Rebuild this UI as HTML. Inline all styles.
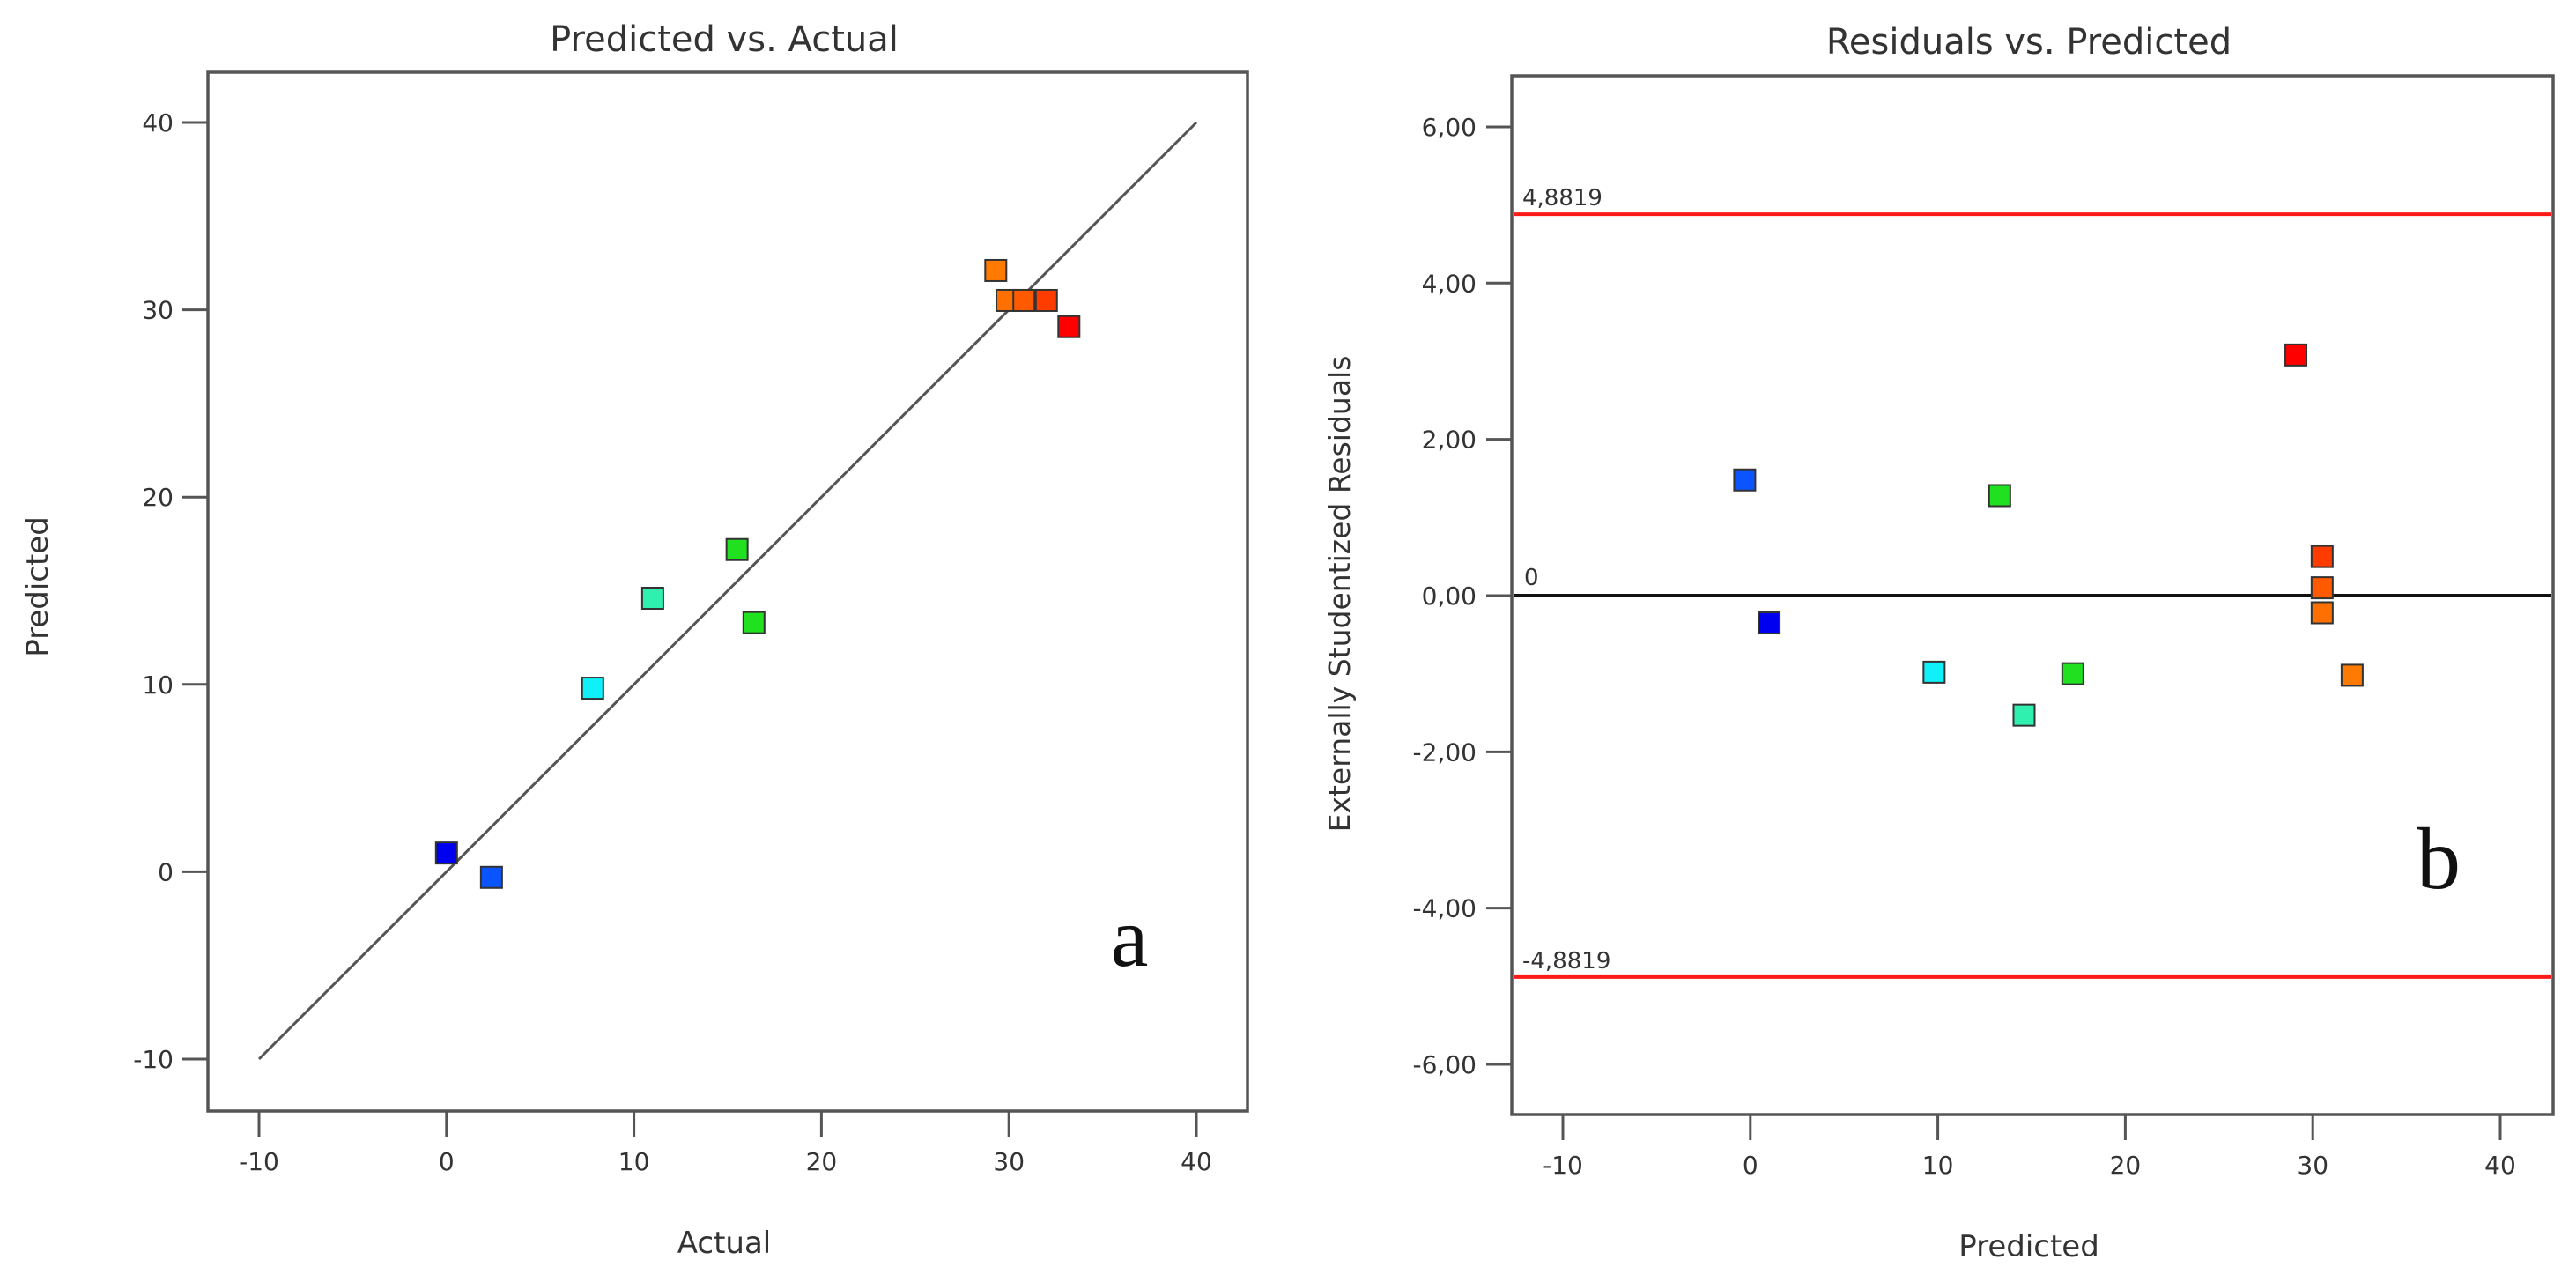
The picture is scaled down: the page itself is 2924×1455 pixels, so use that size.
<!DOCTYPE html>
<html><head><meta charset="utf-8"><style>
html,body{margin:0;padding:0;background:#fff;}
svg{display:block;font-family:"DejaVu Sans","Liberation Sans",sans-serif;}
</style></head><body>
<svg id="fig" width="2924" height="1455" viewBox="0 0 2924 1455" xmlns="http://www.w3.org/2000/svg"></svg>
<script>
// Panel a data
const actualVals = [0, 2.4, 7.8, 11.0, 15.5, 16.4, 29.3, 29.9, 30.8, 32.0, 33.2];
const predictedVals = [1.0, -0.3, 9.8, 14.6, 17.2, 13.3, 32.1, 30.5, 30.5, 30.5, 29.1];
const colorsA = ["#0000f0","#0a55ff","#10f0f8","#30f0b0","#20e020","#20e020","#ff7a00","#ff7000","#ff5a00","#ff3c00","#ff0000"];
// Panel b data
const predB = [-0.3, 1.0, 9.8, 13.3, 14.6, 17.2, 29.1, 30.5, 30.5, 30.5, 32.1];
const residB = [1.48, -0.35, -0.98, 1.28, -1.53, -1.0, 3.08, 0.5, 0.1, -0.22, -1.02];
const colorsB = ["#0a55ff","#0000f0","#10f0f8","#20e020","#30f0b0","#20e020","#ff0000","#ff3c00","#ff5a00","#ff7000","#ff7a00"];
const xTicks = [-10, 0, 10, 20, 30, 40];
const yTicksA = [-10, 0, 10, 20, 30, 40];
const yTicksB = [-6, -4, -2, 0, 2, 4, 6];
const yTickLabelsB = ["-6,00","-4,00","-2,00","0,00","2,00","4,00","6,00"];
const limit = 4.8819;

const NS = "http://www.w3.org/2000/svg";
const svg = document.getElementById('fig');
function mk(tag, attrs, parent, text){
  const e = document.createElementNS(NS, tag);
  for (const k in attrs) e.setAttribute(k, attrs[k]);
  if (text !== undefined) e.textContent = text;
  (parent || svg).appendChild(e);
  return e;
}
const xA = v => 294 + (v + 10) * 21.28;
const yA = v => 1202 - (v + 10) * 21.26;
const xB = v => 1774 + (v + 10) * 21.28;
const yB = v => 1208 - (v + 6) * 88.67;

// ---------- Panel A ----------
const gA = mk('g', {});


let t = mk('text', {x: 822, y: 58, 'font-size': 40, 'text-anchor': 'middle', fill: '#333'}, gA, 'Predicted vs. Actual');


let fr = mk('rect', {x: 236, y: 82, width: 1180, height: 1179, fill: 'none', stroke: '#555', 'stroke-width': 3.5}, gA);


xTicks.forEach(v => {
  const l = mk('line', {x1: xA(v), x2: xA(v), y1: 1261, y2: 1290, stroke: '#555', 'stroke-width': 3}, gA);
  
  
  const tx = mk('text', {x: xA(v), y: 1328, 'font-size': 28, 'text-anchor': 'middle', fill: '#333'}, gA, String(v));
  
  
});
yTicksA.forEach(v => {
  const l = mk('line', {x1: 207, x2: 236, y1: yA(v), y2: yA(v), stroke: '#555', 'stroke-width': 3}, gA);
  
  
  const tx = mk('text', {x: 197, y: yA(v) + 10, 'font-size': 28, 'text-anchor': 'end', fill: '#333'}, gA, String(v));
  
  
});
let diag = mk('line', {x1: xA(-10), y1: yA(-10), x2: xA(40), y2: yA(40), stroke: '#555', 'stroke-width': 3}, gA);


actualVals.forEach((v, i) => {
  const r = mk('rect', {x: xA(v) - 12, y: yA(predictedVals[i]) - 12, width: 24, height: 24, fill: colorsA[i], stroke: '#333', 'stroke-width': 2}, gA);
  
  
});
t = mk('text', {x: 822, y: 1422, 'font-size': 34, 'text-anchor': 'middle', fill: '#333'}, gA, 'Actual');


t = mk('text', {x: 0, y: 0, 'font-size': 34, 'text-anchor': 'middle', fill: '#333', transform: 'translate(54,666) rotate(-90)'}, gA, 'Predicted');


t = mk('text', {x: 1282, y: 1096, 'font-size': 96, 'text-anchor': 'middle', fill: '#111', 'font-family': '"Liberation Serif", serif'}, gA, 'a');



// ---------- Panel B ----------
const gB = mk('g', {});


t = mk('text', {x: 2303, y: 61, 'font-size': 40, 'text-anchor': 'middle', fill: '#333'}, gB, 'Residuals vs. Predicted');


fr = mk('rect', {x: 1716, y: 86, width: 1182, height: 1179, fill: 'none', stroke: '#555', 'stroke-width': 3.5}, gB);


xTicks.forEach(v => {
  const l = mk('line', {x1: xB(v), x2: xB(v), y1: 1265, y2: 1294, stroke: '#555', 'stroke-width': 3}, gB);
  
  
  const tx = mk('text', {x: xB(v), y: 1332, 'font-size': 28, 'text-anchor': 'middle', fill: '#333'}, gB, String(v));
  
  
});
yTicksB.forEach((v, i) => {
  const l = mk('line', {x1: 1687, x2: 1716, y1: yB(v), y2: yB(v), stroke: '#555', 'stroke-width': 3}, gB);
  
  
  const tx = mk('text', {x: 1676, y: yB(v) + 10, 'font-size': 28, 'text-anchor': 'end', fill: '#333'}, gB, yTickLabelsB[i]);
  
  
});
let ln = mk('line', {x1: 1718, x2: 2896, y1: yB(limit), y2: yB(limit), stroke: '#ff1a1a', 'stroke-width': 4}, gB);


ln = mk('line', {x1: 1718, x2: 2896, y1: yB(-limit), y2: yB(-limit), stroke: '#ff1a1a', 'stroke-width': 4}, gB);


ln = mk('line', {x1: 1718, x2: 2896, y1: yB(0), y2: yB(0), stroke: '#111', 'stroke-width': 4}, gB);


t = mk('text', {x: 1728, y: yB(limit) - 10, 'font-size': 26, fill: '#333'}, gB, '4,8819');


t = mk('text', {x: 1728, y: yB(-limit) - 10, 'font-size': 26, fill: '#333'}, gB, '-4,8819');


t = mk('text', {x: 1730, y: yB(0) - 12, 'font-size': 26, fill: '#333'}, gB, '0');


predB.forEach((v, i) => {
  const r = mk('rect', {x: xB(v) - 12, y: yB(residB[i]) - 12, width: 24, height: 24, fill: colorsB[i], stroke: '#333', 'stroke-width': 2}, gB);
  
  
});
t = mk('text', {x: 2303, y: 1426, 'font-size': 34, 'text-anchor': 'middle', fill: '#333'}, gB, 'Predicted');


t = mk('text', {x: 0, y: 0, 'font-size': 33, 'text-anchor': 'middle', fill: '#333', transform: 'translate(1532,674) rotate(-90)'}, gB, 'Externally Studentized Residuals');


t = mk('text', {x: 2768, y: 1008, 'font-size': 100, 'text-anchor': 'middle', fill: '#111', 'font-family': '"Liberation Serif", serif'}, gB, 'b');


</script>
</body></html>
